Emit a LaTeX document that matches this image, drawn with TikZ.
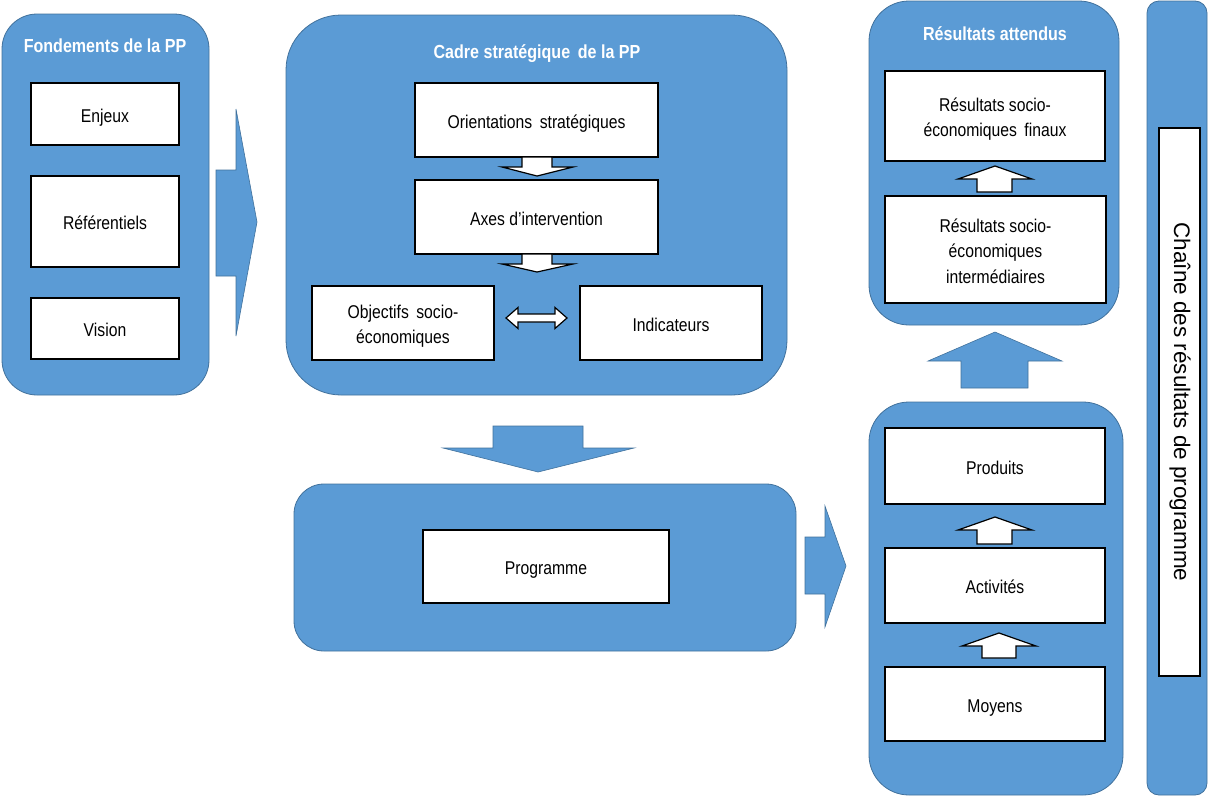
\documentclass[tikz,border=0pt]{standalone}
\usepackage{fontspec}
\setmainfont{Liberation Sans}[FakeStretch=0.85]
\newfontfamily\widefont{Liberation Sans}
\definecolor{panelblue}{HTML}{5B9BD5}
\definecolor{paneledge}{HTML}{41719C}
% box label: centred lines, set a little below the geometric centre
\newcommand\boxlbl[1]{\raisebox{0pt}[\dimexpr\height+6pt\relax][\depth]{\begin{tabular}{@{}c@{}}#1\end{tabular}}}
\begin{document}
\begin{tikzpicture}[x=1pt,y=-1pt,
  panel/.style={draw=paneledge, line width=0.8pt, fill=panelblue, inner sep=0pt},
  paneltitle/.style={text=white, font=\bfseries\fontsize{18.9}{22}\selectfont, inner sep=0pt},
  box/.style={draw=black, line width=1.3pt, fill=white, align=center, inner sep=0pt,
    font=\fontsize{18.5}{25.5}\selectfont},
  blockarrow/.style={draw=paneledge, line width=0.6pt, fill=panelblue},
  smallarrow/.style={draw=black, line width=1.2pt, fill=white, line join=miter}]
\useasboundingbox (0,0) rectangle (1208,796);

% --- Fondements de la PP ---
\node[panel, rounded corners=35pt, minimum width=207, minimum height=381] (fond) at (105.5,204.5) {};
\node[paneltitle] (fondT) at (105,46) {Fondements de la PP};
\node[box, minimum width=148, minimum height=62] (enjeux) at (105,114) {\boxlbl{Enjeux}};
\node[box, minimum width=148, minimum height=91] (referentiels) at (105,221.5) {\boxlbl{Référentiels}};
\node[box, minimum width=148, minimum height=61] (vision) at (105,328.5) {\boxlbl{Vision}};

% arrow towards the strategic frame
\draw[blockarrow] (216,170) -- (236,170) -- (236,109) -- (257,222) -- (236,336) -- (236,276) -- (216,276) -- cycle;

% --- Cadre stratégique de la PP ---
\node[panel, rounded corners=55pt, minimum width=501, minimum height=380] (cadre) at (536.5,205) {};
\node[paneltitle] (cadreT) at (537,54) {Cadre stratégique\, de la PP};
\node[box, minimum width=243, minimum height=74] (orient) at (536.5,120) {\boxlbl{Orientations\, stratégiques}};
\node[box, minimum width=243, minimum height=74] (axes) at (536.5,217) {\boxlbl{Axes d’intervention}};
\node[box, minimum width=182, minimum height=74] (objectifs) at (403,323) {\boxlbl{Objectifs\, socio-\\économiques}};
\node[box, minimum width=182, minimum height=74] (indic) at (671,323) {\boxlbl{Indicateurs}};

\draw[smallarrow] (522,157) -- (552,157) -- (552,167) -- (573,167) -- (537,176) -- (502,167) -- (522,167) -- cycle;
\draw[smallarrow] (522,254) -- (552,254) -- (552,264) -- (573,264) -- (537,272) -- (502,264) -- (522,264) -- cycle;
\draw[smallarrow] (506,318) -- (518,307.5) -- (518,314) -- (555,314) -- (555,307.5) -- (567,318)
  -- (555,328.5) -- (555,322) -- (518,322) -- (518,328.5) -- cycle;

% arrow down to the programme
\draw[blockarrow] (493,426) -- (583,426) -- (583,448) -- (634,448) -- (538,472) -- (443,448) -- (493,448) -- cycle;

% --- Programme ---
\node[panel, rounded corners=30pt, minimum width=502, minimum height=167] (progP) at (545,567.5) {};
\node[box, minimum width=246, minimum height=73] (programme) at (546,566.5) {\boxlbl{Programme}};

% arrow towards the results chain
\draw[blockarrow] (805,537) -- (825,537) -- (825,506) -- (846,566) -- (825,627) -- (825,594) -- (805,594) -- cycle;

% --- Résultats attendus ---
\node[panel, rounded corners=40pt, minimum width=250, minimum height=324] (result) at (994,163) {};
\node[paneltitle] (resultT) at (995,34) {Résultats attendus};
\node[box, minimum width=220, minimum height=90] (rsf) at (995,116) {\boxlbl{Résultats socio-\\économiques\, finaux}};
\node[box, minimum width=221, minimum height=107] (rsi) at (995.5,249.5) {\boxlbl{Résultats socio-\\économiques\\intermédiaires}};
\draw[smallarrow] (977,192) -- (977,179) -- (958,179) -- (995,166) -- (1032,179) -- (1012,179) -- (1012,192) -- cycle;

% arrow up from the operational chain
\draw[blockarrow] (961,388) -- (961,361) -- (928,361) -- (995,332) -- (1062,361) -- (1028,361) -- (1028,388) -- cycle;

% --- Produits / Activités / Moyens ---
\node[panel, rounded corners=40pt, minimum width=254, minimum height=393] (ops) at (996,598.5) {};
\node[box, minimum width=220, minimum height=76] (produits) at (995,466) {\boxlbl{Produits}};
\node[box, minimum width=220, minimum height=75] (activites) at (995,585.5) {\boxlbl{Activités}};
\node[box, minimum width=220, minimum height=74] (moyens) at (995,704) {\boxlbl{Moyens}};
\draw[smallarrow] (977,544) -- (977,530) -- (958,530) -- (995,517) -- (1032,530) -- (1012,530) -- (1012,544) -- cycle;
\draw[smallarrow] (982,658) -- (982,646) -- (962,646) -- (999,633) -- (1036,646) -- (1016,646) -- (1016,658) -- cycle;

% --- Chaîne des résultats de programme ---
\node[panel, rounded corners=12pt, minimum width=60, minimum height=794] (chain) at (1177,398) {};
\node[draw=black, line width=1.3pt, fill=white, minimum width=41, minimum height=548, inner sep=0pt] (chainbox) at (1179.5,402) {};
\node[rotate=-90, font=\widefont\fontsize{22.5}{27}\selectfont, inner sep=0pt] (chainT) at (1180,402) {Chaîne des résultats de programme};
\end{tikzpicture}
\end{document}
